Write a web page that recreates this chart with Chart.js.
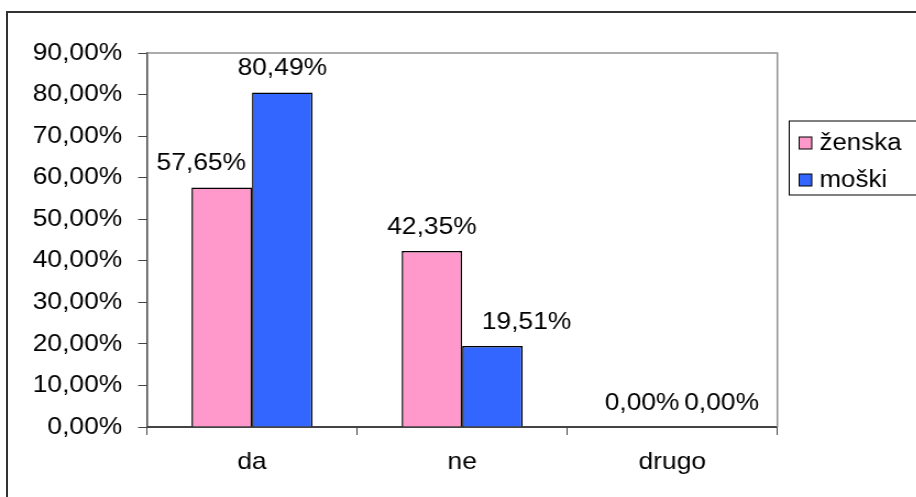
<!DOCTYPE html>
<html lang="sl">
<head>
<meta charset="UTF-8">
<title>Chart</title>
<style type="text/css">
    body{ margin:0; background:#fff; overflow:hidden; }
    .frame{
        position:absolute; left:6px; top:11px;
        width:920px; height:500px;
        border:2px solid #333;
    }
    .chartBox{
        position:absolute; left:0; top:0;
        width:833px; height:497px;
        transform:scaleX(1.1); transform-origin:0 0;
    }
</style>
</head>
<body>
<div class="frame"></div>
<div class="chartBox">
    <canvas id="myChart"></canvas>
</div>

<script src="https://cdn.jsdelivr.net/npm/chart.js"></script>
<script>
// data
const categories = ['da', 'ne', 'drugo'];
const seriesNames = ['ženska', 'moški'];
const zenska = [57.65, 42.35, 0];
const moski = [80.49, 19.51, 0];
const colors = ['#FF99CC', '#3366FF'];

const fontFamily = "'Liberation Sans', Arial, sans-serif";
const fontSize = 24;
const fmt = v => v.toFixed(2).replace('.', ',') + '%';

// labels above the bars (some were moved sideways by hand in the original)
const valueLabels = {
    id: 'valueLabels',
    afterDatasetsDraw(chart, args, opts){
        const ctx = chart.ctx;
        ctx.save();
        ctx.font = fontSize + 'px ' + fontFamily;
        ctx.fillStyle = '#000';
        ctx.textAlign = 'center';
        ctx.textBaseline = 'middle';
        chart.data.datasets.forEach((ds, i) => {
            chart.getDatasetMeta(i).data.forEach((bar, j) => {
                const dx = (opts.shift[i] || [])[j] || 0;
                ctx.fillText(fmt(ds.data[j]), bar.x + dx, bar.y - 24);
            });
        });
        ctx.restore();
    }
};

// gray top/right border of plot area
const plotFrame = {
    id: 'plotFrame',
    afterDraw(chart){
        const a = chart.chartArea, ctx = chart.ctx;
        ctx.save();
        ctx.strokeStyle = '#909090';
        ctx.lineWidth = 1.5;
        ctx.beginPath();
        ctx.moveTo(a.left, a.top);
        ctx.lineTo(a.right, a.top);
        ctx.lineTo(a.right, a.bottom);
        ctx.stroke();
        ctx.restore();
    }
};

// boxed legend on the right
const boxLegend = {
    id: 'boxLegend',
    afterDraw(chart){
        const ctx = chart.ctx;
        const x0 = 717.5, y0 = 121, w = 117, h = 74;
        ctx.save();
        ctx.fillStyle = '#fff';
        ctx.fillRect(x0, y0, w, h);
        ctx.strokeStyle = '#000';
        ctx.lineWidth = 1;
        ctx.strokeRect(x0, y0, w, h);
        ctx.font = (fontSize - 0.5) + 'px ' + fontFamily;
        ctx.textBaseline = 'middle';
        chart.data.datasets.forEach((ds, i) => {
            const cy = 143 + i * 37;
            ctx.fillStyle = ds.backgroundColor;
            ctx.fillRect(726.5, cy - 6, 11.5, 12);
            ctx.strokeStyle = '#000';
            ctx.strokeRect(726.5, cy - 6, 11.5, 12);
            ctx.fillStyle = '#000';
            ctx.fillText(ds.label, 745, cy + 1);
        });
        ctx.restore();
    }
};

const data = {
    labels: categories,
    datasets: [
        { label: seriesNames[0], data: zenska, backgroundColor: colors[0], borderColor: '#000', borderWidth: 1.5 },
        { label: seriesNames[1], data: moski, backgroundColor: colors[1], borderColor: '#000', borderWidth: 1.5 }
    ]
};

const config = {
    type: 'bar',
    data,
    options: {
        responsive: true,
        maintainAspectRatio: false,
        animation: false,
        datasets: {
            bar: { categoryPercentage: 0.576, barPercentage: 1.0 }
        },
        layout: { padding: { top: 53, right: 126.3, left: 0, bottom: 0 } },
        plugins: {
            legend: { display: false },
            tooltip: { enabled: false },
            valueLabels: { shift: [[-18.6, 0, 0], [0, 31, 17.3]] }
        },
        scales: {
            x: {
                grid: { offset: true, drawOnChartArea: false, drawTicks: true, tickLength: 8, color: '#444' },
                border: { color: '#444', width: 2 },
                ticks: { color: '#000', font: { family: fontFamily, size: fontSize }, padding: 13 },
                afterFit(scale){ scale.height = 70; }
            },
            y: {
                min: 0,
                max: 90,
                grid: { drawOnChartArea: false, drawTicks: true, tickLength: 8, color: '#444' },
                border: { color: '#444', width: 1.5 },
                ticks: {
                    stepSize: 10,
                    color: '#000',
                    font: { family: fontFamily, size: fontSize },
                    padding: 14.5,
                    callback: v => fmt(v)
                },
                afterFit(scale){ scale.width = 133.6; }
            }
        }
    },
    plugins: [valueLabels, plotFrame, boxLegend]
};

const myChart = new Chart(document.getElementById('myChart'), config);
</script>
</body>
</html>
